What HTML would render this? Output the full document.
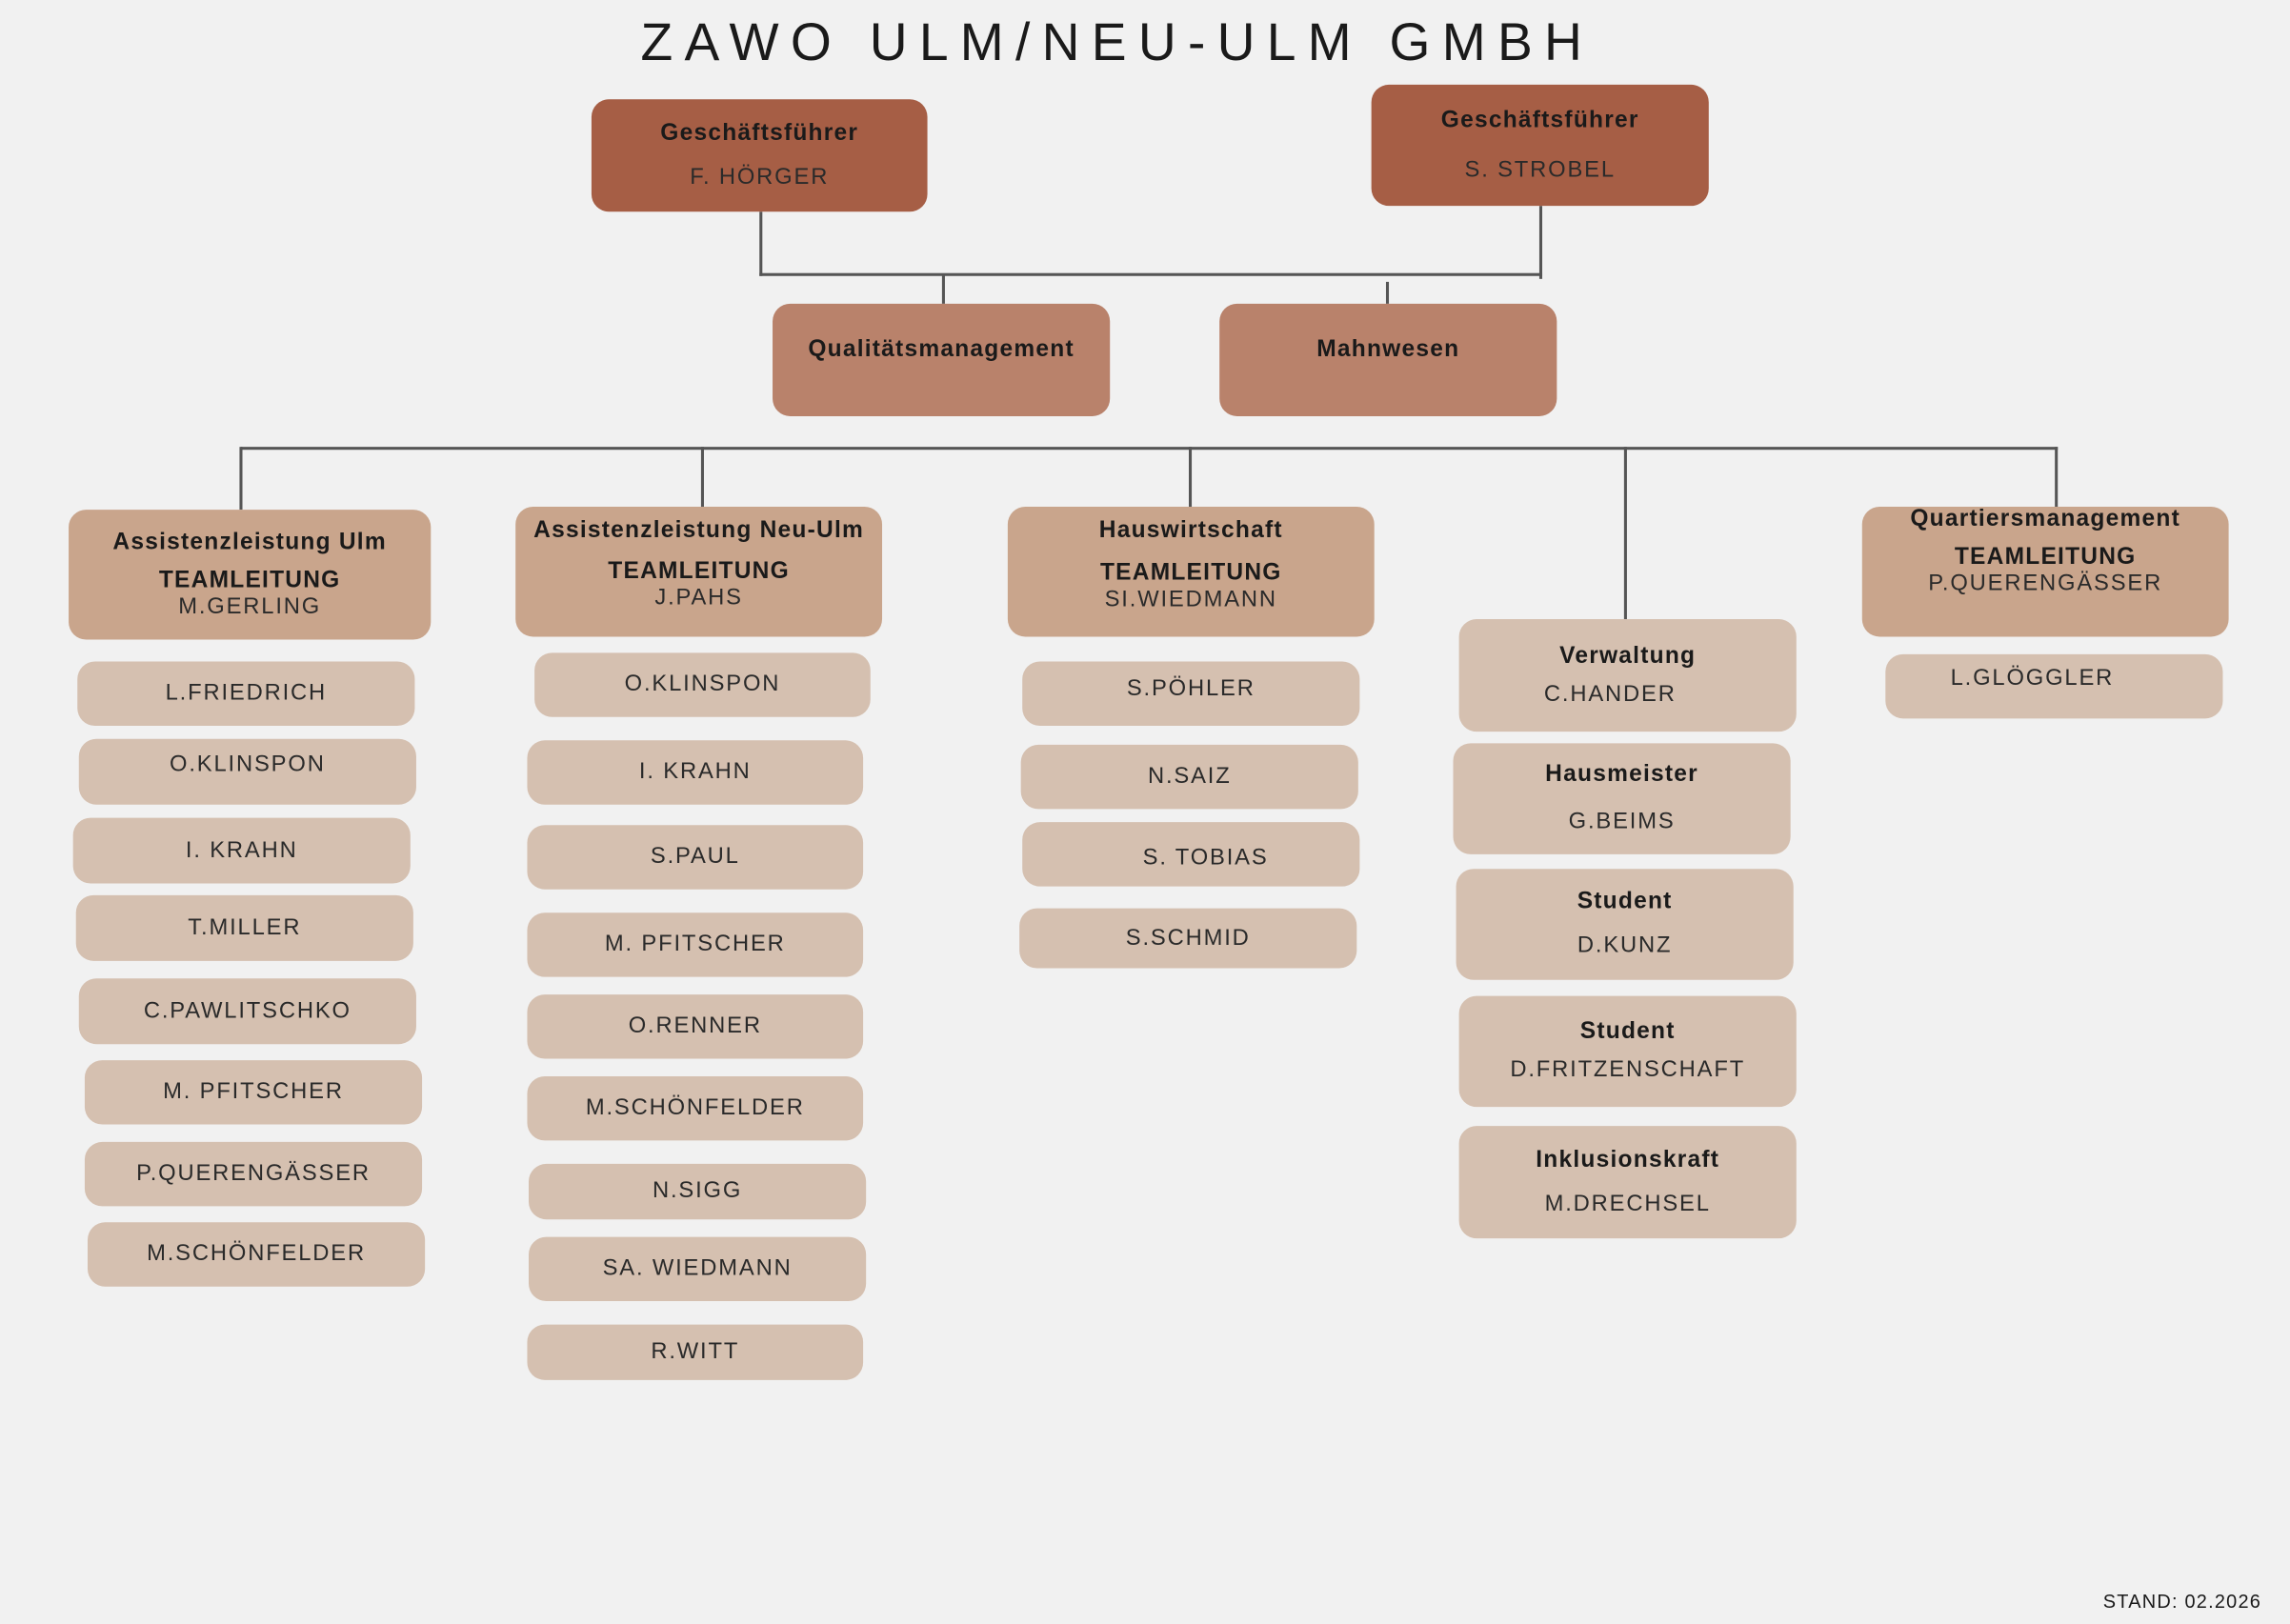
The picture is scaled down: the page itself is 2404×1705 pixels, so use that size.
<!DOCTYPE html>
<html><head><meta charset="utf-8"><style>
html,body{margin:0;padding:0;background:#f1f1f1;}
body{width:2404px;height:1705px;overflow:hidden;}
#c{position:absolute;left:0;top:0;width:1568px;height:1112px;transform:scale(1.53316);transform-origin:0 0;font-family:"Liberation Sans",sans-serif;color:#1a1a1a;}
.b{position:absolute;border-radius:12px;display:flex;flex-direction:column;align-items:center;justify-content:center;text-align:center;box-sizing:border-box;}
.d{background:#a65e45;}
.m{background:#b9826b;}
.h{background:#c9a58c;}
.l{background:#d5c0b0;}
.t{font-weight:bold;font-size:16px;letter-spacing:0.8px;}
.n{font-size:15.5px;letter-spacing:1.2px;color:#2a2a2a;}
.ln{position:absolute;background:#555;}
.title{position:absolute;left:0;width:1530px;top:8px;text-align:center;font-size:36px;letter-spacing:8px;}
</style></head><body><div id="c">
<div class="title">ZAWO ULM/NEU-ULM GMBH</div>
<div class="ln" style="left:520px;top:145px;width:1.5px;height:44px"></div>
<div class="ln" style="left:1054px;top:141px;width:1.5px;height:50px"></div>
<div class="ln" style="left:520px;top:187px;width:536px;height:1.5px"></div>
<div class="ln" style="left:645px;top:188px;width:1.5px;height:20px"></div>
<div class="ln" style="left:949px;top:193px;width:1.5px;height:15px"></div>
<div class="ln" style="left:165px;top:306px;width:1244px;height:1.5px"></div>
<div class="ln" style="left:164px;top:306px;width:1.5px;height:43px"></div>
<div class="ln" style="left:480px;top:306px;width:1.5px;height:41px"></div>
<div class="ln" style="left:814px;top:306px;width:1.5px;height:41px"></div>
<div class="ln" style="left:1112px;top:306px;width:1.5px;height:118px"></div>
<div class="ln" style="left:1407px;top:306px;width:1.5px;height:41px"></div>
<div class="b d" style="left:405px;top:68px;width:230px;height:77px"><div class="t">Geschäftsführer</div><div class="n" style="margin-top:12px">F. HÖRGER</div></div>
<div class="b d" style="left:939px;top:58px;width:231px;height:83px"><div class="t">Geschäftsführer</div><div class="n" style="margin-top:16px">S. STROBEL</div></div>
<div class="b m" style="left:529px;top:208px;width:231px;height:77px;justify-content:flex-start;padding-top:23px"><div class="t">Qualitätsmanagement</div></div>
<div class="b m" style="left:835px;top:208px;width:231px;height:77px;justify-content:flex-start;padding-top:23px"><div class="t">Mahnwesen</div></div>
<div class="b h" style="left:47px;top:349px;width:248px;height:89px"><div class="t">Assistenzleistung Ulm</div><div class="t" style="margin-top:8px">TEAMLEITUNG</div><div class="n">M.GERLING</div></div>
<div class="b h" style="left:353px;top:347px;width:251px;height:89px;justify-content:flex-start;padding-top:8px"><div class="t">Assistenzleistung Neu-Ulm</div><div class="t" style="margin-top:10px">TEAMLEITUNG</div><div class="n">J.PAHS</div></div>
<div class="b h" style="left:690px;top:347px;width:251px;height:89px;justify-content:flex-start;padding-top:8px"><div class="t">Hauswirtschaft</div><div class="t" style="margin-top:11px">TEAMLEITUNG</div><div class="n">SI.WIEDMANN</div></div>
<div class="b h" style="left:1275px;top:347px;width:251px;height:89px;justify-content:flex-start;padding-top:0px"><div class="t">Quartiersmanagement</div><div class="t" style="margin-top:8px">TEAMLEITUNG</div><div class="n">P.QUERENGÄSSER</div></div>
<div class="b l" style="left:53px;top:453px;width:231px;height:44px"><div class="n">L.FRIEDRICH</div></div>
<div class="b l" style="left:54px;top:506px;width:231px;height:45px;justify-content:flex-start;padding-top:9px"><div class="n">O.KLINSPON</div></div>
<div class="b l" style="left:50px;top:560px;width:231px;height:45px"><div class="n">I. KRAHN</div></div>
<div class="b l" style="left:52px;top:613px;width:231px;height:45px;justify-content:flex-start;padding-top:14px"><div class="n">T.MILLER</div></div>
<div class="b l" style="left:54px;top:670px;width:231px;height:45px"><div class="n">C.PAWLITSCHKO</div></div>
<div class="b l" style="left:58px;top:726px;width:231px;height:44px"><div class="n">M. PFITSCHER</div></div>
<div class="b l" style="left:58px;top:782px;width:231px;height:44px"><div class="n">P.QUERENGÄSSER</div></div>
<div class="b l" style="left:60px;top:837px;width:231px;height:44px"><div class="n">M.SCHÖNFELDER</div></div>
<div class="b l" style="left:366px;top:447px;width:230px;height:44px"><div class="n">O.KLINSPON</div></div>
<div class="b l" style="left:361px;top:507px;width:230px;height:44px"><div class="n">I. KRAHN</div></div>
<div class="b l" style="left:361px;top:565px;width:230px;height:44px"><div class="n">S.PAUL</div></div>
<div class="b l" style="left:361px;top:625px;width:230px;height:44px"><div class="n">M. PFITSCHER</div></div>
<div class="b l" style="left:361px;top:681px;width:230px;height:44px"><div class="n">O.RENNER</div></div>
<div class="b l" style="left:361px;top:737px;width:230px;height:44px"><div class="n">M.SCHÖNFELDER</div></div>
<div class="b l" style="left:362px;top:797px;width:231px;height:38px"><div class="n">N.SIGG</div></div>
<div class="b l" style="left:362px;top:847px;width:231px;height:44px"><div class="n">SA. WIEDMANN</div></div>
<div class="b l" style="left:361px;top:907px;width:230px;height:38px"><div class="n">R.WITT</div></div>
<div class="b l" style="left:700px;top:453px;width:231px;height:44px;justify-content:flex-start;padding-top:10px"><div class="n">S.PÖHLER</div></div>
<div class="b l" style="left:699px;top:510px;width:231px;height:44px"><div class="n">N.SAIZ</div></div>
<div class="b l" style="left:700px;top:563px;width:231px;height:44px;padding-top:6px"><div class="n" style="margin-left:20px">S. TOBIAS</div></div>
<div class="b l" style="left:698px;top:622px;width:231px;height:41px"><div class="n">S.SCHMID</div></div>
<div class="b l" style="left:999px;top:424px;width:231px;height:77px"><div class="t">Verwaltung</div><div class="n" style="margin-top:8px;margin-right:24px">C.HANDER</div></div>
<div class="b l" style="left:995px;top:509px;width:231px;height:76px"><div class="t">Hausmeister</div><div class="n" style="margin-top:14px">G.BEIMS</div></div>
<div class="b l" style="left:997px;top:595px;width:231px;height:76px"><div class="t">Student</div><div class="n" style="margin-top:12px">D.KUNZ</div></div>
<div class="b l" style="left:999px;top:682px;width:231px;height:76px"><div class="t">Student</div><div class="n" style="margin-top:8px">D.FRITZENSCHAFT</div></div>
<div class="b l" style="left:999px;top:771px;width:231px;height:77px"><div class="t">Inklusionskraft</div><div class="n" style="margin-top:12px">M.DRECHSEL</div></div>
<div class="b l" style="left:1291px;top:448px;width:231px;height:44px;justify-content:flex-start;padding-top:8px"><div class="n" style="margin-right:30px">L.GLÖGGLER</div></div>
<div style="position:absolute;left:1440px;top:1089px;font-size:13px;letter-spacing:0.8px">STAND: 02.2026</div>
</div></body></html>
